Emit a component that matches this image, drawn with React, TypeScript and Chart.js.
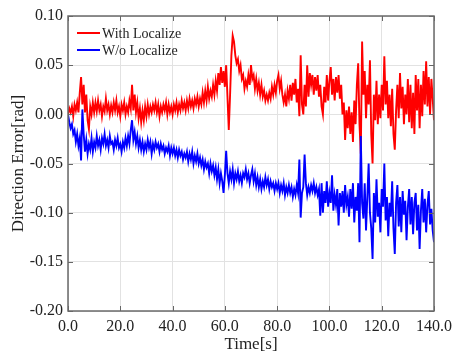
import React, { useEffect, useRef } from "react";
import { Chart, registerables } from "chart.js";

Chart.register(...registerables);

const SAMPLE_STEP = 0.5; // seconds between samples
const X_TICKS = [0, 20, 40, 60, 80, 100, 120, 140];
const Y_TICKS = [-0.2, -0.15, -0.1, -0.05, 0, 0.05, 0.1];
const SERIES_NAMES = ["With Localize", "W/o Localize"];

const withLocalize = [
  0, 0.006, 0.002, 0.008, -0.002, 0.01, 0.004, 0.012, 0.002, 0.022,
  0.038, 0.01, 0.03, 0.002, 0.02, -0.006, -0.015, 0.008, 0.0, 0.012,
  0.002, 0.012, 0.003, 0.014, 0.004, 0.01, -0.002, 0.008, 0.003, 0.016,
  0.004, 0.01, 0.0, 0.009, 0.002, 0.012, 0.004, 0.014, 0.002, 0.008,
  -0.002, 0.01, 0.004, 0.012, 0.0, 0.008, 0.002, 0.014, 0.006, 0.03,
  0.004, 0.02, 0.002, 0.012, -0.004, 0.006, -0.008, 0.004, -0.006, 0.008,
  -0.002, 0.01, 0.0, 0.008, 0.002, 0.01, 0.004, 0.012, 0.002, 0.01,
  -0.002, 0.008, 0.002, 0.01, 0.004, 0.012, 0.0, 0.01, 0.002, 0.008,
  0.0, 0.01, 0.004, 0.012, 0.002, 0.01, 0.004, 0.014, 0.006, 0.012,
  0.004, 0.014, 0.006, 0.016, 0.008, 0.014, 0.006, 0.016, 0.01, 0.018,
  0.008, 0.016, 0.01, 0.022, 0.012, 0.024, 0.014, 0.028, 0.016, 0.024,
  0.018, 0.03, 0.02, 0.034, 0.024, 0.042, 0.03, 0.048, 0.032, 0.044,
  0.028, 0.05, 0.018, -0.016, 0.02, 0.06, 0.08, 0.074, 0.06, 0.052,
  0.056, 0.044, 0.05, 0.036, 0.04, 0.026, 0.034, 0.028, 0.04, 0.03,
  0.05, 0.036, 0.04, 0.026, 0.036, 0.024, 0.032, 0.02, 0.03, 0.018,
  0.024, 0.014, 0.02, 0.014, 0.022, 0.016, 0.028, 0.02, 0.03, 0.022,
  0.034, 0.04, 0.026, 0.034, 0.02, 0.012, 0.02, 0.008, 0.024, 0.016,
  0.03, 0.014, 0.032, 0.02, 0.036, 0.012, 0.026, -0.002, 0.06, 0.01,
  0.0, 0.03, 0.008, 0.05, 0.018, 0.042, 0.03, 0.04, 0.02, 0.038,
  0.024, 0.04, 0.018, 0.03, 0.008, 0.0, 0.028, 0.012, 0.04, 0.014,
  0.034, 0.048, 0.02, 0.036, 0.014, 0.038, 0.022, 0.04, 0.016, 0.03,
  0.0, 0.012, -0.026, 0.004, -0.014, 0.008, -0.02, 0.002, -0.028, 0.014,
  -0.01, 0.03, 0.052, -0.01, -0.04, 0.074, 0.02, 0.044, -0.004, 0.03,
  0.01, 0.055, -0.02, -0.05, 0.02, -0.006, 0.034, -0.01, 0.02, -0.004,
  0.03, 0.004, 0.059, 0.01, 0.034, -0.004, 0.02, -0.012, 0.026, -0.02,
  -0.036, 0.004, 0.03, -0.004, 0.042, 0.006, 0.028, -0.01, 0.02, 0.0,
  0.036, -0.008, 0.03, -0.014, 0.022, -0.02, 0.04, 0.004, 0.036, -0.014,
  0.03, -0.002, 0.044, 0.01, 0.054, 0.008, 0.038, 0.0, 0.036, 0.016,
  -0.006,
];

const withoutLocalize = [
  0, -0.008, -0.014, -0.01, -0.02, -0.016, -0.028, -0.02, -0.032, -0.024,
  -0.047, 0.005, -0.02, -0.038, -0.026, -0.04, -0.03, -0.036, -0.024, -0.038,
  -0.028, -0.034, -0.022, -0.032, -0.026, -0.036, -0.024, -0.03, -0.02, -0.032,
  -0.026, -0.034, -0.022, -0.03, -0.028, -0.036, -0.026, -0.032, -0.024, -0.034,
  -0.03, -0.038, -0.028, -0.034, -0.024, -0.032, -0.022, -0.03, -0.016, -0.006,
  -0.026, -0.018, -0.03, -0.022, -0.034, -0.026, -0.036, -0.028, -0.038, -0.03,
  -0.036, -0.026, -0.034, -0.028, -0.04, -0.03, -0.036, -0.028, -0.034, -0.03,
  -0.038, -0.03, -0.036, -0.032, -0.04, -0.034, -0.038, -0.032, -0.042, -0.034,
  -0.04, -0.034, -0.042, -0.036, -0.044, -0.036, -0.042, -0.038, -0.046, -0.04,
  -0.044, -0.038, -0.048, -0.04, -0.046, -0.038, -0.05, -0.042, -0.048, -0.04,
  -0.05, -0.044, -0.052, -0.046, -0.056, -0.048, -0.054, -0.05, -0.06, -0.05,
  -0.058, -0.052, -0.062, -0.054, -0.066, -0.056, -0.07, -0.06, -0.068, -0.08,
  -0.062, -0.037, -0.06, -0.07, -0.058, -0.066, -0.056, -0.07, -0.06, -0.066,
  -0.058, -0.068, -0.062, -0.07, -0.06, -0.064, -0.056, -0.066, -0.06, -0.07,
  -0.062, -0.056, -0.068, -0.06, -0.072, -0.064, -0.074, -0.066, -0.076, -0.068,
  -0.074, -0.064, -0.072, -0.066, -0.076, -0.068, -0.074, -0.07, -0.078, -0.07,
  -0.076, -0.07, -0.08, -0.072, -0.078, -0.07, -0.082, -0.074, -0.08, -0.072,
  -0.08, -0.074, -0.084, -0.076, -0.082, -0.072, -0.08, -0.046, -0.105, -0.08,
  -0.074, -0.041, -0.07, -0.082, -0.074, -0.08, -0.072, -0.078, -0.07, -0.08,
  -0.074, -0.082, -0.076, -0.103, -0.07, -0.1, -0.078, -0.09, -0.068, -0.094,
  -0.08, -0.09, -0.062, -0.098, -0.082, -0.092, -0.076, -0.113, -0.08, -0.094,
  -0.078, -0.1, -0.072, -0.092, -0.084, -0.104, -0.076, -0.096, -0.07, -0.11,
  -0.084, -0.098, -0.07, -0.13, -0.022, -0.09, -0.106, -0.07, -0.118, -0.084,
  -0.05, -0.1, -0.116, -0.147, -0.08, -0.11, -0.066, -0.104, -0.09, -0.12,
  -0.076, -0.094, -0.05, -0.108, -0.084, -0.124, -0.09, -0.104, -0.068, -0.116,
  -0.142, -0.09, -0.072, -0.114, -0.084, -0.12, -0.078, -0.102, -0.088, -0.128,
  -0.094, -0.076, -0.112, -0.084, -0.122, -0.09, -0.08, -0.118, -0.092, -0.137,
  -0.098, -0.076, -0.11, -0.086, -0.12, -0.092, -0.078, -0.112, -0.096, -0.118,
  -0.13,
];

const FONT = "'Liberation Serif', 'Times New Roman', serif";
const COLORS = ["#ff0000", "#0000ff"];

const toPoints = (vals: number[]) => vals.map((y, i) => ({ x: i * SAMPLE_STEP, y }));

const framePlugin = {
  id: "frameAndLegend",
  afterDatasetsDraw(chart: any) {
    const { ctx, chartArea } = chart;
    const { left, right, top, bottom } = chartArea;
    const xs = chart.scales.x;
    const ys = chart.scales.y;
    ctx.save();
    ctx.strokeStyle = "#666";
    ctx.lineWidth = 1;
    const tl = 5;
    X_TICKS.forEach((t) => {
      const px = Math.round(xs.getPixelForValue(t)) + 0.5;
      ctx.beginPath();
      ctx.moveTo(px, bottom);
      ctx.lineTo(px, bottom - tl);
      ctx.moveTo(px, top);
      ctx.lineTo(px, top + tl);
      ctx.stroke();
    });
    Y_TICKS.forEach((v) => {
      const py = Math.round(ys.getPixelForValue(v)) + 0.5;
      ctx.beginPath();
      ctx.moveTo(left, py);
      ctx.lineTo(left + tl, py);
      ctx.moveTo(right, py);
      ctx.lineTo(right - tl, py);
      ctx.stroke();
    });
    ctx.strokeStyle = "#6a6a6a";
    ctx.lineWidth = 1.5;
    ctx.strokeRect(left, top, right - left, bottom - top);
    const lx = left + 9;
    const ly = top + 17;
    ctx.font = `14px ${FONT}`;
    ctx.textBaseline = "middle";
    ctx.textAlign = "left";
    SERIES_NAMES.forEach((name, i) => {
      const y = ly + i * 17;
      ctx.strokeStyle = COLORS[i];
      ctx.lineWidth = 2;
      ctx.beginPath();
      ctx.moveTo(lx, y);
      ctx.lineTo(lx + 23, y);
      ctx.stroke();
      ctx.fillStyle = "#222";
      ctx.fillText(name, lx + 25, y + 1);
    });
    ctx.restore();
  },
};

export default function App() {
  const ref = useRef<HTMLCanvasElement | null>(null);
  useEffect(() => {
    if (!ref.current) return;
    const chart = new Chart(ref.current, {
      type: "line",
      data: {
        datasets: [
          {
            label: SERIES_NAMES[0],
            data: toPoints(withLocalize),
            borderColor: COLORS[0],
            borderWidth: 1.9,
            pointRadius: 0,
            tension: 0,
            order: 2,
          },
          {
            label: SERIES_NAMES[1],
            data: toPoints(withoutLocalize),
            borderColor: COLORS[1],
            borderWidth: 1.9,
            pointRadius: 0,
            tension: 0,
            order: 1,
          },
        ],
      },
      options: {
        animation: false,
        responsive: true,
        maintainAspectRatio: false,
        layout: { padding: { top: 16, right: 18, left: 0, bottom: 0 } },
        plugins: { legend: { display: false }, tooltip: { enabled: false } },
        scales: {
          x: {
            type: "linear",
            min: 0,
            max: 140,
            afterFit: (s: any) => {
              s.height = 42;
            },
            afterBuildTicks: (s: any) => {
              s.ticks = X_TICKS.map((v) => ({ value: v }));
            },
            ticks: {
              callback: (v: any) => Number(v).toFixed(1),
              font: { family: FONT, size: 16 },
              color: "#222",
              padding: 6,
              maxRotation: 0,
            },
            grid: { color: "#e2e2e2", drawTicks: false, lineWidth: 1 },
            border: { display: false },
            title: {
              display: true,
              text: "Time[s]",
              font: { family: FONT, size: 17, lineHeight: 1 },
              color: "#222",
              padding: { top: 0, bottom: 0 },
            },
          },
          y: {
            type: "linear",
            min: -0.2,
            max: 0.1,
            afterFit: (s: any) => {
              s.width = 68;
            },
            afterBuildTicks: (s: any) => {
              s.ticks = Y_TICKS.map((v) => ({ value: v }));
            },
            ticks: {
              callback: (v: any) => Number(v).toFixed(2),
              font: { family: FONT, size: 16 },
              color: "#222",
              padding: 5,
            },
            grid: { color: "#e2e2e2", drawTicks: false, lineWidth: 1 },
            border: { display: false },
            title: {
              display: true,
              text: "Direction Error[rad]",
              font: { family: FONT, size: 17, lineHeight: 1.2 },
              color: "#222",
              padding: { top: 8, bottom: 0 },
            },
          },
        },
      },
      plugins: [framePlugin],
    });
    return () => chart.destroy();
  }, []);
  return (
    <div style={{ position: "fixed", left: 0, top: 0, width: 458, height: 353, background: "#fff" }}>
      <canvas ref={ref} />
    </div>
  );
}
